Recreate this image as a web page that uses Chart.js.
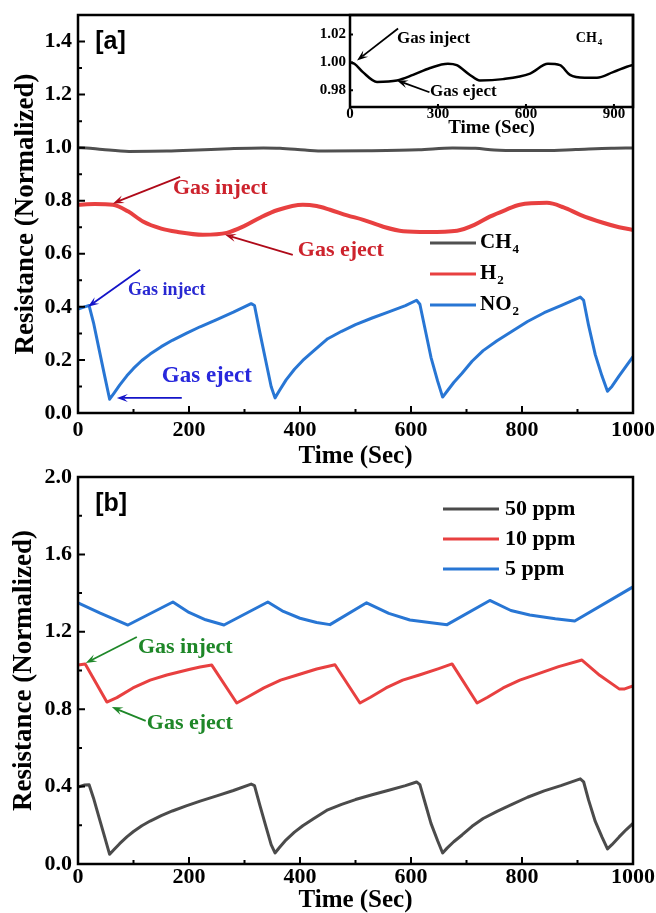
<!DOCTYPE html>
<html>
<head>
<meta charset="utf-8">
<script src="https://cdn.jsdelivr.net/npm/chart.js@4.4.1/dist/chart.umd.min.js"></script>
<style>
  html, body { margin: 0; padding: 0; background: #fff; }
  #wrap { position: relative; width: 656px; height: 913px; }
  canvas { position: absolute; }
</style>
</head>
<body>
<div id="wrap">
  <canvas id="panelA" style="left:0px;top:0px;width:656px;height:476px" width="656" height="476"></canvas>
  <canvas id="panelB" style="left:0px;top:462px;width:656px;height:451px" width="656" height="451"></canvas>
  <canvas id="inset" style="left:290px;top:0px;width:366px;height:142px" width="366" height="142"></canvas>
</div>
<script>
// ---- data ----
const aTimeTicks = [0, 200, 400, 600, 800, 1000];
const aTimeMinor = [100, 300, 500, 700, 900];
const aValueTicks = [0, 0.2, 0.4, 0.6, 0.8, 1.0, 1.2, 1.4];
const aValueMinor = [0.1, 0.3, 0.5, 0.7, 0.9, 1.1, 1.3];
const bValueTicks = [0, 0.4, 0.8, 1.2, 1.6, 2.0];
const bValueMinor = [0.2, 0.6, 1.0, 1.4, 1.8];
const insetTimeTicks = [0, 300, 600, 900];
const insetValueTicks = [0.98, 1.00, 1.02];

// panel a
const ch4Time = [0, 15, 44, 92, 160, 215, 273, 334, 364, 409, 443, 522, 614, 675, 716, 750, 800, 842, 897, 961, 1000];
const ch4Vals = [1.000, 0.999, 0.993, 0.986, 0.987, 0.991, 0.996, 0.999, 0.998, 0.991, 0.987, 0.988, 0.992, 0.999, 0.998, 0.991, 0.989, 0.989, 0.993, 0.998, 0.999];

const h2Time = [0, 30, 63, 90, 117, 150, 178, 225, 268, 300, 328, 360, 405, 430, 454, 485, 514, 550, 586, 630, 683, 715, 742, 770, 796, 845, 875, 905, 946, 975, 1000];
const h2Vals = [0.785, 0.788, 0.785, 0.760, 0.722, 0.695, 0.683, 0.672, 0.679, 0.705, 0.736, 0.765, 0.785, 0.780, 0.766, 0.745, 0.728, 0.702, 0.685, 0.682, 0.687, 0.710, 0.740, 0.765, 0.785, 0.792, 0.775, 0.747, 0.717, 0.700, 0.690];

const no2Time = [0, 12, 20, 28, 38, 48, 57, 65, 75, 88, 100, 115, 130, 150, 170, 195, 220, 250, 280, 312, 318, 328, 338, 348, 355, 363, 375, 390, 405, 425, 450, 475, 500, 530, 560, 590, 610, 616, 626, 636, 648, 657, 665, 677, 692, 710, 730, 755, 780, 810, 840, 870, 905, 911, 920, 932, 944, 954, 962, 975, 988, 1000];
const no2Vals = [0.392, 0.400, 0.405, 0.340, 0.240, 0.140, 0.052, 0.075, 0.105, 0.140, 0.168, 0.198, 0.222, 0.250, 0.274, 0.300, 0.325, 0.352, 0.380, 0.412, 0.405, 0.300, 0.200, 0.100, 0.057, 0.085, 0.125, 0.165, 0.198, 0.235, 0.280, 0.308, 0.333, 0.358, 0.381, 0.405, 0.425, 0.410, 0.310, 0.210, 0.120, 0.060, 0.082, 0.115, 0.150, 0.195, 0.235, 0.272, 0.305, 0.345, 0.378, 0.405, 0.437, 0.425, 0.330, 0.220, 0.140, 0.082, 0.100, 0.140, 0.178, 0.212];

// panel b
const ppm50Time = [0, 12, 20, 28, 38, 48, 57, 65, 75, 88, 100, 115, 130, 150, 170, 195, 220, 250, 280, 312, 318, 328, 338, 348, 355, 363, 375, 390, 405, 425, 450, 475, 500, 530, 560, 590, 610, 616, 626, 636, 648, 657, 665, 677, 692, 710, 730, 755, 780, 810, 840, 870, 905, 911, 920, 932, 944, 954, 962, 975, 988, 1000];
const ppm50Vals = [0.398, 0.408, 0.410, 0.340, 0.240, 0.140, 0.050, 0.075, 0.105, 0.140, 0.168, 0.198, 0.222, 0.250, 0.274, 0.300, 0.325, 0.352, 0.380, 0.413, 0.405, 0.300, 0.200, 0.100, 0.057, 0.085, 0.125, 0.165, 0.198, 0.235, 0.280, 0.308, 0.333, 0.358, 0.381, 0.405, 0.424, 0.410, 0.310, 0.210, 0.120, 0.057, 0.082, 0.115, 0.150, 0.195, 0.235, 0.272, 0.305, 0.345, 0.378, 0.405, 0.440, 0.425, 0.330, 0.220, 0.140, 0.078, 0.100, 0.140, 0.178, 0.210];

const ppm10Time = [0, 13, 52, 70, 99, 130, 160, 200, 220, 241, 286, 305, 335, 365, 395, 430, 463, 508, 527, 555, 585, 615, 650, 674, 719, 738, 766, 796, 826, 866, 908, 940, 975, 985, 1000];
const ppm10Vals = [1.028, 1.034, 0.837, 0.860, 0.910, 0.950, 0.977, 1.005, 1.018, 1.028, 0.832, 0.862, 0.910, 0.950, 0.977, 1.008, 1.030, 0.832, 0.862, 0.910, 0.950, 0.977, 1.010, 1.034, 0.832, 0.862, 0.910, 0.950, 0.980, 1.020, 1.054, 0.975, 0.905, 0.905, 0.920];

const ppm5Time = [0, 40, 90, 171, 200, 230, 263, 342, 370, 400, 430, 454, 520, 560, 598, 640, 665, 742, 780, 814, 860, 895, 1000];
const ppm5Vals = [1.350, 1.297, 1.235, 1.354, 1.300, 1.262, 1.235, 1.354, 1.305, 1.270, 1.248, 1.237, 1.350, 1.295, 1.261, 1.245, 1.237, 1.362, 1.310, 1.287, 1.268, 1.256, 1.432];

// ---- drawing helpers ----
const serif = "'Liberation Serif', 'Times New Roman', serif";
const sans = "'Liberation Sans', Arial, sans-serif";
const gray = 'rgb(80,80,80)';
const red = 'rgb(232,64,64)';
const blue = 'rgb(40,118,212)';

function pts(times, vals) {
  return times.map((t, i) => ({ x: t, y: vals[i] }));
}

// "CH_4" -> CH with a subscript 4
function richText(ctx, text, x, y, size, family) {
  const parts = text.split('_');
  ctx.font = 'bold ' + size + 'px ' + family;
  ctx.fillText(parts[0], x, y);
  if (parts[1]) {
    const w = ctx.measureText(parts[0]).width;
    ctx.font = 'bold ' + Math.round(size * 0.62) + 'px ' + family;
    ctx.fillText(parts[1], x + w + 1, y + size * 0.3);
  }
}

function arrow(ctx, x1, y1, x2, y2, color) {
  const ang = Math.atan2(y2 - y1, x2 - x1);
  const len = 11, half = 4;
  ctx.strokeStyle = color;
  ctx.fillStyle = color;
  ctx.lineWidth = 1.8;
  ctx.beginPath();
  ctx.moveTo(x1, y1);
  ctx.lineTo(x2 - Math.cos(ang) * len * 0.6, y2 - Math.sin(ang) * len * 0.6);
  ctx.stroke();
  ctx.beginPath();
  ctx.moveTo(x2, y2);
  ctx.lineTo(x2 - Math.cos(ang) * len - Math.sin(ang) * half, y2 - Math.sin(ang) * len + Math.cos(ang) * half);
  ctx.lineTo(x2 - Math.cos(ang) * len * 0.6, y2 - Math.sin(ang) * len * 0.6);
  ctx.lineTo(x2 - Math.cos(ang) * len + Math.sin(ang) * half, y2 - Math.sin(ang) * len - Math.cos(ang) * half);
  ctx.closePath();
  ctx.fill();
}

// box, inward ticks, notes and key
function frame(cfg) {
  return {
    id: 'frame',
    afterDraw(chart) {
      const { ctx, chartArea: a } = chart;
      const sx = chart.scales.x, sy = chart.scales.y;
      ctx.save();
      ctx.strokeStyle = '#000';
      ctx.lineWidth = cfg.border;
      ctx.strokeRect(a.left, a.top, a.right - a.left, a.bottom - a.top);

      ctx.lineWidth = 2;
      ctx.beginPath();
      sx.ticks.forEach(t => {
        const p = sx.getPixelForValue(t.value);
        ctx.moveTo(p, a.bottom); ctx.lineTo(p, a.bottom - cfg.major);
      });
      (cfg.minorX || []).forEach(v => {
        const p = sx.getPixelForValue(v);
        ctx.moveTo(p, a.bottom); ctx.lineTo(p, a.bottom - cfg.minor);
      });
      sy.ticks.forEach(t => {
        const p = sy.getPixelForValue(t.value);
        ctx.moveTo(a.left, p); ctx.lineTo(a.left + cfg.major, p);
      });
      (cfg.minorY || []).forEach(v => {
        const p = sy.getPixelForValue(v);
        ctx.moveTo(a.left, p); ctx.lineTo(a.left + cfg.minor, p);
      });
      ctx.stroke();

      ctx.textAlign = 'left';
      ctx.textBaseline = 'middle';
      (cfg.notes || []).forEach(n => {
        ctx.fillStyle = n.color;
        richText(ctx, n.text, sx.getPixelForValue(n.x), sy.getPixelForValue(n.y), n.size, n.family || serif);
        if (n.arrow) {
          arrow(ctx, sx.getPixelForValue(n.arrow[0]), sy.getPixelForValue(n.arrow[1]),
            sx.getPixelForValue(n.arrow[2]), sy.getPixelForValue(n.arrow[3]), n.arrowColor || n.color);
        }
      });

      if (cfg.key) {
        const k = cfg.key;
        chart.data.datasets.forEach((ds, i) => {
          const y = k.y + i * k.gap;
          ctx.strokeStyle = ds.borderColor;
          ctx.lineWidth = 3;
          ctx.beginPath();
          ctx.moveTo(k.x1, y); ctx.lineTo(k.x2, y);
          ctx.stroke();
          ctx.fillStyle = '#000';
          richText(ctx, ds.label, k.tx, y, k.size, serif);
        });
      }
      ctx.restore();
    }
  };
}

function axisFont(size) {
  return { family: serif, size: size, weight: 'bold', lineHeight: 1 };
}

function baseOptions(pad) {
  return {
    responsive: false,
    animation: false,
    layout: { padding: pad },
    elements: { point: { radius: 0 }, line: { borderCapStyle: 'round', borderJoinStyle: 'round' } },
    plugins: { legend: { display: false }, tooltip: { enabled: false } }
  };
}

// fixed axis band sizes, ignoring label overhang so the plot box lands where it should
function fixHeight(h) {
  return s => { s.height = h; s.paddingLeft = 0; s.paddingRight = 0; };
}
function fixWidth(w) {
  return s => { s.width = w; s.paddingTop = 0; s.paddingBottom = 0; };
}

// ---- panel a ----
const optsA = baseOptions({ left: 0, right: 23, top: 15, bottom: 0 });
optsA.scales = {
  x: {
    type: 'linear', min: 0, max: 1000,
    grid: { display: false, drawTicks: false }, border: { display: false },
    afterBuildTicks: s => { s.ticks = aTimeTicks.map(v => ({ value: v })); },
    afterFit: fixHeight(63),
    ticks: { font: axisFont(22), color: '#000', padding: 6, maxRotation: 0, autoSkip: false, callback: v => String(v) },
    title: { display: true, text: 'Time (Sec)', font: axisFont(25), color: '#000', padding: { top: 0, bottom: 7 } }
  },
  y: {
    min: 0, max: 1.5,
    grid: { display: false, drawTicks: false }, border: { display: false },
    afterBuildTicks: s => { s.ticks = aValueTicks.map(v => ({ value: v })); },
    afterFit: fixWidth(78),
    ticks: { font: axisFont(22), color: '#000', padding: 6, autoSkip: false, callback: v => v.toFixed(1) },
    title: { display: true, text: 'Resistance (Normalized)', font: axisFont(27), color: '#000', padding: { top: 13, bottom: 0 } }
  }
};

new Chart(document.getElementById('panelA'), {
  type: 'line',
  data: {
    datasets: [
      { label: 'CH_4', data: pts(ch4Time, ch4Vals), borderColor: gray, borderWidth: 3, cubicInterpolationMode: 'monotone' },
      { label: 'H_2', data: pts(h2Time, h2Vals), borderColor: red, borderWidth: 4, cubicInterpolationMode: 'monotone' },
      { label: 'NO_2', data: pts(no2Time, no2Vals), borderColor: blue, borderWidth: 3, tension: 0 }
    ]
  },
  options: optsA,
  plugins: [frame({
    border: 2.5, major: 7, minor: 4,
    minorX: aTimeMinor, minorY: aValueMinor,
    key: { x1: 430, x2: 476, tx: 480, y: 243, gap: 31, size: 21 },
    notes: [
      { text: '[a]', x: 31, y: 1.396, size: 25, color: '#000', family: sans },
      { text: 'Gas inject', x: 171, y: 0.845, size: 22, color: 'rgb(205,35,45)', arrowColor: 'rgb(175,10,25)', arrow: [184, 0.89, 63, 0.79] },
      { text: 'Gas eject', x: 396, y: 0.615, size: 22, color: 'rgb(205,35,45)', arrowColor: 'rgb(175,10,25)', arrow: [387, 0.596, 265, 0.672] },
      { text: 'Gas inject', x: 90, y: 0.464, size: 18, color: 'rgb(40,40,210)', arrowColor: 'rgb(20,20,200)', arrow: [112, 0.54, 18, 0.40] },
      { text: 'Gas eject', x: 151, y: 0.14, size: 23, color: 'rgb(40,40,220)', arrowColor: 'rgb(20,20,200)', arrow: [187, 0.057, 70, 0.057] }
    ]
  })]
});

// ---- inset of panel a ----
const optsI = baseOptions({ left: 0, right: 23, top: 15, bottom: 0 });
optsI.scales = {
  x: {
    type: 'linear', min: 0, max: 965,
    grid: { display: false, drawTicks: false }, border: { display: false },
    afterBuildTicks: s => { s.ticks = insetTimeTicks.map(v => ({ value: v })); },
    afterFit: fixHeight(35),
    ticks: { font: axisFont(15), color: '#000', padding: 0, maxRotation: 0, autoSkip: false, callback: v => String(v) },
    title: { display: true, text: 'Time (Sec)', font: axisFont(19), color: '#000', padding: { top: 0, bottom: 4 } }
  },
  y: {
    min: 0.968, max: 1.034,
    grid: { display: false, drawTicks: false }, border: { display: false },
    afterBuildTicks: s => { s.ticks = insetValueTicks.map(v => ({ value: v })); },
    afterFit: fixWidth(60),
    ticks: { font: axisFont(15), color: '#000', padding: 4, autoSkip: false, callback: v => v.toFixed(2) }
  }
};

new Chart(document.getElementById('inset'), {
  type: 'line',
  data: {
    datasets: [
      { label: 'CH_4', data: pts(ch4Time, ch4Vals), borderColor: '#000', borderWidth: 2.5, cubicInterpolationMode: 'monotone' }
    ]
  },
  options: optsI,
  plugins: [frame({
    border: 2.5, major: 3, minor: 0,
    notes: [
      { text: 'Gas inject', x: 160, y: 1.0171, size: 17, color: '#000', arrow: [164, 1.0243, 24, 1.0014] },
      { text: 'Gas eject', x: 273, y: 0.9793, size: 17, color: '#000', arrow: [271, 0.9786, 160, 0.9871] },
      { text: 'CH_4', x: 770, y: 1.0171, size: 14, color: '#000' }
    ]
  })]
});

// ---- panel b ----
const optsB = baseOptions({ left: 0, right: 23, top: 15, bottom: 0 });
optsB.scales = {
  x: {
    type: 'linear', min: 0, max: 1000,
    grid: { display: false, drawTicks: false }, border: { display: false },
    afterBuildTicks: s => { s.ticks = aTimeTicks.map(v => ({ value: v })); },
    afterFit: fixHeight(49),
    ticks: { font: axisFont(22), color: '#000', padding: 2, maxRotation: 0, autoSkip: false, callback: v => String(v) },
    title: { display: true, text: 'Time (Sec)', font: axisFont(25), color: '#000', padding: { top: 0, bottom: 0 } }
  },
  y: {
    min: 0, max: 2.0,
    grid: { display: false, drawTicks: false }, border: { display: false },
    afterBuildTicks: s => { s.ticks = bValueTicks.map(v => ({ value: v })); },
    afterFit: fixWidth(78),
    ticks: { font: axisFont(22), color: '#000', padding: 6, autoSkip: false, callback: v => v.toFixed(1) },
    title: { display: true, text: 'Resistance (Normalized)', font: axisFont(27), color: '#000', padding: { top: 11, bottom: 0 } }
  }
};

new Chart(document.getElementById('panelB'), {
  type: 'line',
  data: {
    datasets: [
      { label: '50 ppm', data: pts(ppm50Time, ppm50Vals), borderColor: 'rgb(75,75,75)', borderWidth: 3, tension: 0 },
      { label: '10 ppm', data: pts(ppm10Time, ppm10Vals), borderColor: red, borderWidth: 3, tension: 0 },
      { label: '5 ppm', data: pts(ppm5Time, ppm5Vals), borderColor: blue, borderWidth: 3, tension: 0 }
    ]
  },
  options: optsB,
  plugins: [frame({
    border: 2.5, major: 7, minor: 4,
    minorX: aTimeMinor, minorY: bValueMinor,
    key: { x1: 443, x2: 499, tx: 505, y: 47, gap: 30, size: 22 },
    notes: [
      { text: '[b]', x: 31, y: 1.86, size: 25, color: '#000', family: sans },
      { text: 'Gas inject', x: 108, y: 1.121, size: 22, color: 'rgb(30,135,40)', arrow: [106, 1.173, 14, 1.039] },
      { text: 'Gas eject', x: 124, y: 0.729, size: 22, color: 'rgb(30,135,40)', arrow: [122, 0.74, 61, 0.811] }
    ]
  })]
});
</script>
</body>
</html>
